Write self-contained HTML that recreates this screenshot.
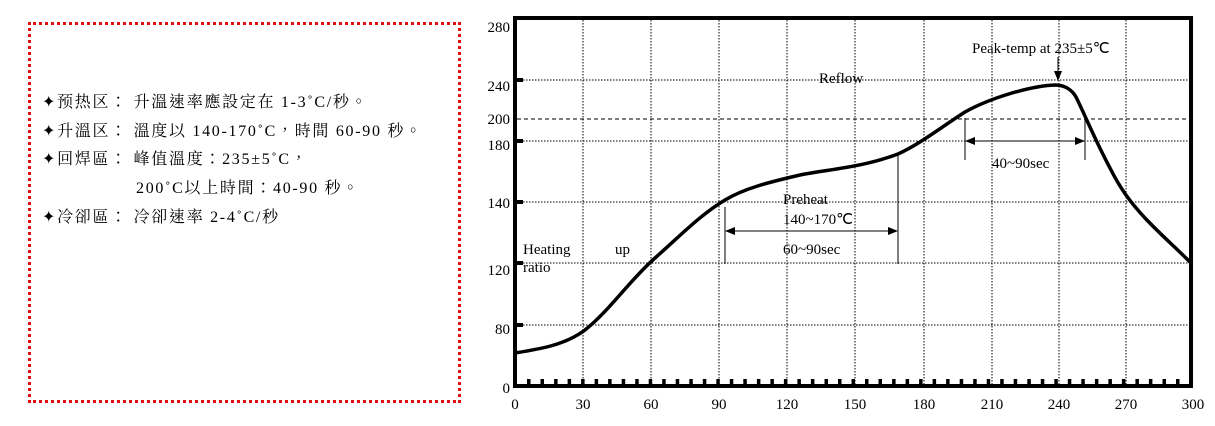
<!DOCTYPE html>
<html><head><meta charset="utf-8"><style>
html,body{margin:0;padding:0;background:#fff;width:1215px;height:426px;overflow:hidden}
.box{position:absolute;left:28px;top:22px;width:427px;height:375px;border:3px dotted #e01010;}
.t{position:absolute;font-family:"Liberation Serif","Noto Serif CJK TC","Noto Serif CJK SC",serif;font-size:16px;letter-spacing:1.7px;color:#000;white-space:nowrap;line-height:18px}
</style></head><body>
<div class="box"></div>
<div class="t" style="left:42px;top:94px">✦预热区：&nbsp;升溫速率應設定在 1-3˚C/秒。</div>
<div class="t" style="left:42px;top:123px">✦升溫区：&nbsp;溫度以 140-170˚C，時間 60-90 秒。</div>
<div class="t" style="left:42px;top:151px">✦回焊區：&nbsp;峰值溫度：235±5˚C，</div>
<div class="t" style="left:136px;top:180px">200˚C以上時間：40-90 秒。</div>
<div class="t" style="left:42px;top:209px">✦冷卻區：&nbsp;冷卻速率 2-4˚C/秒</div>
<svg width="1215" height="426" style="position:absolute;left:0;top:0" font-family="Liberation Serif, serif" font-size="15">
<g stroke="#000" stroke-width="1" stroke-dasharray="1.5,1.5">
<line x1="583" y1="20" x2="583" y2="384"/><line x1="651" y1="20" x2="651" y2="384"/>
<line x1="719" y1="20" x2="719" y2="384"/><line x1="787" y1="20" x2="787" y2="384"/>
<line x1="855" y1="20" x2="855" y2="384"/><line x1="924" y1="20" x2="924" y2="384"/>
<line x1="992" y1="20" x2="992" y2="384"/><line x1="1059" y1="20" x2="1059" y2="384"/>
<line x1="1126" y1="20" x2="1126" y2="384"/>
<line x1="517" y1="80" x2="1191" y2="80"/><line x1="517" y1="141" x2="1191" y2="141"/>
<line x1="517" y1="202" x2="1191" y2="202"/><line x1="517" y1="263" x2="1191" y2="263"/>
<line x1="517" y1="325" x2="1191" y2="325"/>
</g>
<line x1="517" y1="119" x2="1191" y2="119" stroke="#000" stroke-width="1" stroke-dasharray="4,3"/>
<rect x="515" y="18" width="676" height="368" fill="none" stroke="#000" stroke-width="4"/>
<g fill="#000">
<rect x="515" y="78" width="8" height="4"/><rect x="515" y="139" width="8" height="4"/>
<rect x="515" y="200" width="8" height="4"/><rect x="515" y="261" width="8" height="4"/>
<rect x="515" y="323" width="8" height="4"/>
</g>
<g id="tk" fill="#000"></g>
<path d="M515,353 C540,349 565,345 585,330 C610,310 630,280 655,258 C680,236 700,215 725,200 C745,188 770,182 800,175 C830,169 860,168 898,154 C920,144 940,128 965,112 C990,98 1030,86 1055,85 C1065,85 1072,90 1076,97 C1085,115 1095,140 1110,168 C1120,188 1130,202 1145,218 C1160,234 1175,247 1190,262" fill="none" stroke="#000" stroke-width="3.5"/>
<g stroke="#000" stroke-width="1">
<line x1="725" y1="207" x2="725" y2="264"/><line x1="898" y1="155" x2="898" y2="264"/>
<line x1="733" y1="231" x2="890" y2="231"/>
<line x1="965" y1="118" x2="965" y2="160"/><line x1="1085" y1="118" x2="1085" y2="160"/>
<line x1="973" y1="141" x2="1077" y2="141"/>
<line x1="1058" y1="57" x2="1058" y2="74"/>
</g>
<g fill="#000">
<polygon points="725,231 735,227 735,235"/><polygon points="898,231 888,227 888,235"/>
<polygon points="965,141 975,137 975,145"/><polygon points="1085,141 1075,137 1075,145"/>
<polygon points="1058,81 1054,71 1062,71"/>
</g>
<g fill="#000">
<text x="819" y="83">Reflow</text>
<text x="972" y="53">Peak-temp at 235±5℃</text>
<text x="783" y="204">Preheat</text>
<text x="783" y="224">140~170℃</text>
<text x="783" y="254">60~90sec</text>
<text x="523" y="254">Heating</text>
<text x="615" y="254">up</text>
<text x="523" y="272">ratio</text>
<text x="992" y="168">40~90sec</text>
</g>
<g fill="#000" text-anchor="end">
<text x="510" y="32">280</text><text x="510" y="91">240</text><text x="510" y="124">200</text>
<text x="510" y="150">180</text><text x="510" y="208">140</text><text x="510" y="275">120</text>
<text x="510" y="334">80</text><text x="510" y="393">0</text>
</g>
<g fill="#000" text-anchor="middle">
<text x="515" y="409">0</text><text x="583" y="409">30</text><text x="651" y="409">60</text>
<text x="719" y="409">90</text><text x="787" y="409">120</text><text x="855" y="409">150</text>
<text x="924" y="409">180</text><text x="992" y="409">210</text><text x="1059" y="409">240</text>
<text x="1126" y="409">270</text><text x="1193" y="409">300</text>
</g>
</svg>
<script>
var g=document.getElementById('tk'),s='';
for(var i=1;i<50;i++){var x=515+i*13.52;s+='<rect x="'+(x-1.5).toFixed(1)+'" y="379" width="3.5" height="6"/>';}
g.innerHTML=s;
</script>
</body></html>
